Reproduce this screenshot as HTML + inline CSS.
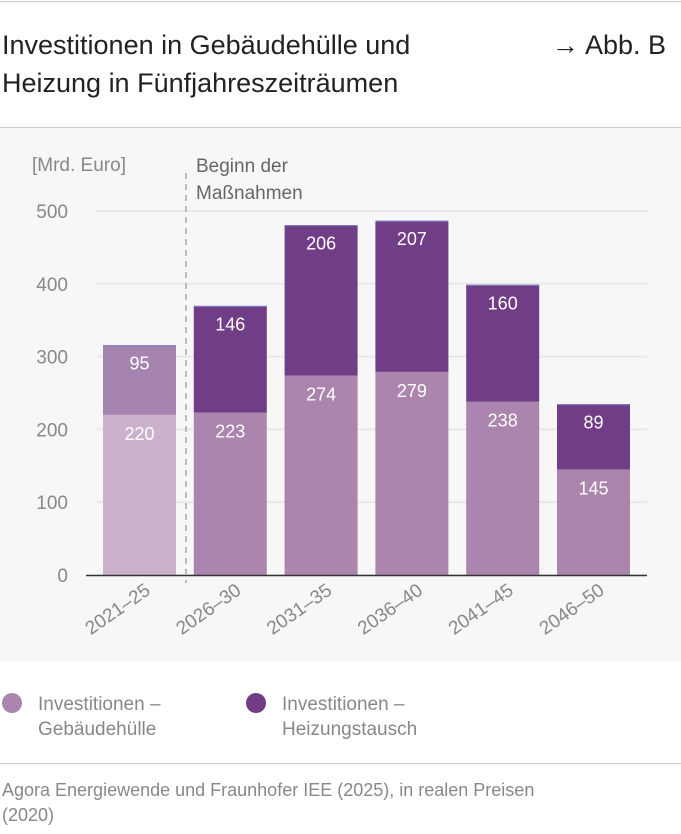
<!DOCTYPE html>
<html><head><meta charset="utf-8"><style>
body{margin:0;width:681px;height:834px;background:#fff;font-family:"Liberation Sans",sans-serif;overflow:hidden;position:relative}
.t{position:absolute;color:#222}
</style></head><body>
<div style="position:absolute;left:0;top:1px;width:681px;height:1px;background:#ccc"></div>
<div class="t" style="left:2px;top:26px;font-size:27px;line-height:38px">Investitionen in Gebäudehülle und<br>Heizung in Fünfjahreszeiträumen</div>
<div class="t" style="left:552px;top:26px;font-size:27px;line-height:38px">→ Abb. B</div>
<div style="position:absolute;left:0;top:127px;width:681px;height:1px;background:#ccc"></div>
<svg style="position:absolute;left:0;top:128px" width="681" height="534" viewBox="0 128 681 534">
<rect x="0" y="128" width="681" height="534" fill="#f7f7f7"/>
<g id="g"></g>
</svg>
<div style="position:absolute;left:2px;top:693px;width:20px;height:20px;border-radius:50%;background:#ab85ad"></div>
<div class="t" style="left:38px;top:692px;font-size:19px;line-height:25px;color:#888">Investitionen –<br>Gebäudehülle</div>
<div style="position:absolute;left:246px;top:693px;width:20px;height:20px;border-radius:50%;background:#723d87"></div>
<div class="t" style="left:282px;top:692px;font-size:19px;line-height:25px;color:#888">Investitionen –<br>Heizungstausch</div>
<div style="position:absolute;left:0;top:763px;width:681px;height:1px;background:#ccc"></div>
<div class="t" style="left:2px;top:778px;font-size:18px;line-height:25px;color:#888">Agora Energiewende und Fraunhofer IEE (2025), in realen Preisen<br>(2020)</div>
<script>
const categories=["2021–25","2026–30","2031–35","2036–40","2041–45","2046–50"];
const huelle=[220,223,274,279,238,145];
const heizung=[95,146,206,207,160,89];
const ticks=[0,100,200,300,400,500];
const NS="http://www.w3.org/2000/svg",g=document.getElementById('g');
const y=v=>575-v*0.728, x=i=>103+i*90.8, bw=73;
function el(t,a,txt){const e=document.createElementNS(NS,t);for(const k in a)e.setAttribute(k,a[k]);if(txt!==undefined)e.textContent=txt;g.appendChild(e);return e;}
ticks.forEach(t=>{
 const l=el('line',{x1:97,x2:647,y1:y(t),y2:y(t),stroke:'#e8e8e8','stroke-width':2});
 
 const tx=el('text',{x:68,y:y(t)+7,'text-anchor':'end','font-size':19,fill:'#888'},t);
 
});
const u=el('text',{x:32,y:171,'font-size':19,fill:'#888'},'[Mrd. Euro]');

categories.forEach((c,i)=>{
 const f=i===0, b0=y(huelle[i]), b1=y(huelle[i]+heizung[i]);
 const r1=el('rect',{x:x(i),y:b0,width:bw,height:575-b0,fill:f?'#cbb1cc':'#ab85ad'});
 
 const r2=el('rect',{x:x(i),y:b1,width:bw,height:b0-b1,fill:f?'#a584b0':'#723d87'});
 
 const tl=el('line',{x1:x(i),x2:x(i)+bw,y1:b1,y2:b1,stroke:'#7a7ab8','stroke-width':1.2});
 
 const v1=el('text',{x:x(i)+bw/2,y:b0+25,'text-anchor':'middle','font-size':18,fill:'#fff'},huelle[i]);
 
 const v2=el('text',{x:x(i)+bw/2,y:b1+24,'text-anchor':'middle','font-size':18,fill:'#fff'},heizung[i]);
 
 const cx=x(i)+bw/2+12, cy=593;
 const xl=el('text',{x:cx,y:cy,'text-anchor':'end','font-size':19,fill:'#888',transform:`rotate(-35 ${cx} ${cy})`},c);
 
});
const ax=el('line',{x1:86,x2:647,y1:575.5,y2:575.5,stroke:'#333','stroke-width':1.5});

const dl=el('line',{x1:186,x2:186,y1:173,y2:583,stroke:'#bbb','stroke-width':2,'stroke-dasharray':'6,5'});

const a1=el('text',{x:196,y:172,'font-size':19,fill:'#666'},'Beginn der');

const a2=el('text',{x:196,y:199,'font-size':19,fill:'#666'},'Maßnahmen');

</script>
</body></html>
